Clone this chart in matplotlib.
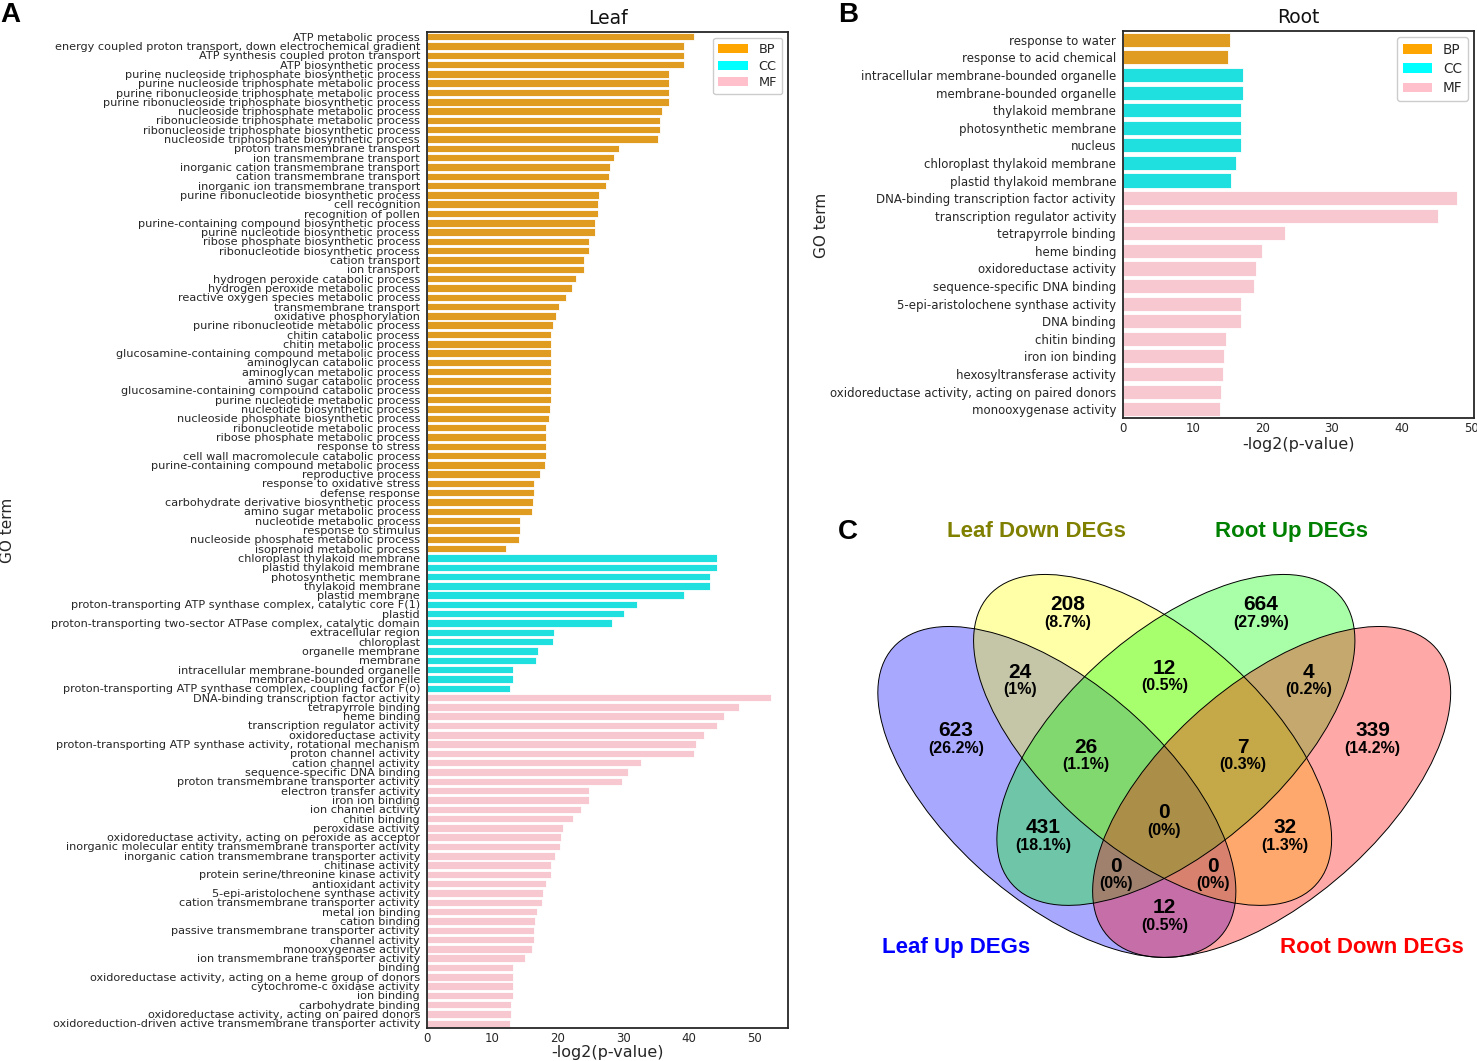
import matplotlib
matplotlib.use("Agg")
import matplotlib.pyplot as plt
from matplotlib.patches import Ellipse, Patch
import matplotlib.colors as mcolors
import colorsys
import numpy as np

# ---------------- data ----------------
leaf_bp_terms = [
    "ATP metabolic process",
    "energy coupled proton transport, down electrochemical gradient",
    "ATP synthesis coupled proton transport",
    "ATP biosynthetic process",
    "purine nucleoside triphosphate biosynthetic process",
    "purine nucleoside triphosphate metabolic process",
    "purine ribonucleoside triphosphate metabolic process",
    "purine ribonucleoside triphosphate biosynthetic process",
    "nucleoside triphosphate metabolic process",
    "ribonucleoside triphosphate metabolic process",
    "ribonucleoside triphosphate biosynthetic process",
    "nucleoside triphosphate biosynthetic process",
    "proton transmembrane transport",
    "ion transmembrane transport",
    "inorganic cation transmembrane transport",
    "cation transmembrane transport",
    "inorganic ion transmembrane transport",
    "purine ribonucleotide biosynthetic process",
    "cell recognition",
    "recognition of pollen",
    "purine-containing compound biosynthetic process",
    "purine nucleotide biosynthetic process",
    "ribose phosphate biosynthetic process",
    "ribonucleotide biosynthetic process",
    "cation transport",
    "ion transport",
    "hydrogen peroxide catabolic process",
    "hydrogen peroxide metabolic process",
    "reactive oxygen species metabolic process",
    "transmembrane transport",
    "oxidative phosphorylation",
    "purine ribonucleotide metabolic process",
    "chitin catabolic process",
    "chitin metabolic process",
    "glucosamine-containing compound metabolic process",
    "aminoglycan catabolic process",
    "aminoglycan metabolic process",
    "amino sugar catabolic process",
    "glucosamine-containing compound catabolic process",
    "purine nucleotide metabolic process",
    "nucleotide biosynthetic process",
    "nucleoside phosphate biosynthetic process",
    "ribonucleotide metabolic process",
    "ribose phosphate metabolic process",
    "response to stress",
    "cell wall macromolecule catabolic process",
    "purine-containing compound metabolic process",
    "reproductive process",
    "response to oxidative stress",
    "defense response",
    "carbohydrate derivative biosynthetic process",
    "amino sugar metabolic process",
    "nucleotide metabolic process",
    "response to stimulus",
    "nucleoside phosphate metabolic process",
    "isoprenoid metabolic process",
]
leaf_bp_values = [40.7, 39.3, 39.3, 39.3, 36.9, 36.9, 36.9, 36.9, 35.8, 35.5, 35.5, 35.2,
                  29.3, 28.5, 28.0, 27.8, 27.3, 26.2, 26.1, 26.1, 25.7, 25.7, 24.7, 24.7,
                  24.0, 24.0, 22.7, 22.2, 21.2, 20.2, 19.7, 19.3, 19.0, 19.0, 19.0, 19.0,
                  19.0, 19.0, 19.0, 18.9, 18.7, 18.6, 18.2, 18.2, 18.1, 18.1, 18.0, 17.2,
                  16.4, 16.3, 16.2, 16.1, 14.2, 14.2, 14.0, 12.1]

leaf_cc_terms = [
    "chloroplast thylakoid membrane",
    "plastid thylakoid membrane",
    "photosynthetic membrane",
    "thylakoid membrane",
    "plastid membrane",
    "proton-transporting ATP synthase complex, catalytic core F(1)",
    "plastid",
    "proton-transporting two-sector ATPase complex, catalytic domain",
    "extracellular region",
    "chloroplast",
    "organelle membrane",
    "membrane",
    "intracellular membrane-bounded organelle",
    "membrane-bounded organelle",
    "proton-transporting ATP synthase complex, coupling factor F(o)",
]
leaf_cc_values = [44.3, 44.2, 43.2, 43.2, 39.3, 32.0, 30.0, 28.2, 19.4, 19.3, 17.0, 16.7,
                  13.1, 13.1, 12.7]

leaf_mf_terms = [
    "DNA-binding transcription factor activity",
    "tetrapyrrole binding",
    "heme binding",
    "transcription regulator activity",
    "oxidoreductase activity",
    "proton-transporting ATP synthase activity, rotational mechanism",
    "proton channel activity",
    "cation channel activity",
    "sequence-specific DNA binding",
    "proton transmembrane transporter activity",
    "electron transfer activity",
    "iron ion binding",
    "ion channel activity",
    "chitin binding",
    "peroxidase activity",
    "oxidoreductase activity, acting on peroxide as acceptor",
    "inorganic molecular entity transmembrane transporter activity",
    "inorganic cation transmembrane transporter activity",
    "chitinase activity",
    "protein serine/threonine kinase activity",
    "antioxidant activity",
    "5-epi-aristolochene synthase activity",
    "cation transmembrane transporter activity",
    "metal ion binding",
    "cation binding",
    "passive transmembrane transporter activity",
    "channel activity",
    "monooxygenase activity",
    "ion transmembrane transporter activity",
    "binding",
    "oxidoreductase activity, acting on a heme group of donors",
    "cytochrome-c oxidase activity",
    "ion binding",
    "carbohydrate binding",
    "oxidoreductase activity, acting on paired donors",
    "oxidoreduction-driven active transmembrane transporter activity",
]
leaf_mf_values = [52.5, 47.6, 45.4, 44.3, 42.3, 41.1, 40.7, 32.7, 30.7, 29.8, 24.7, 24.7,
                  23.5, 22.3, 20.8, 20.5, 20.3, 19.5, 19.0, 18.9, 18.2, 17.7, 17.5, 16.8,
                  16.5, 16.3, 16.3, 16.1, 14.9, 13.2, 13.2, 13.2, 13.1, 12.8, 12.8, 12.6]

root_bp_terms = ["response to water", "response to acid chemical"]
root_bp_values = [15.3, 15.1]
root_cc_terms = ["intracellular membrane-bounded organelle", "membrane-bounded organelle",
                 "thylakoid membrane", "photosynthetic membrane", "nucleus",
                 "chloroplast thylakoid membrane", "plastid thylakoid membrane"]
root_cc_values = [17.2, 17.2, 17.0, 17.0, 16.9, 16.2, 15.5]
root_mf_terms = ["DNA-binding transcription factor activity", "transcription regulator activity",
                 "tetrapyrrole binding", "heme binding", "oxidoreductase activity",
                 "sequence-specific DNA binding", "5-epi-aristolochene synthase activity",
                 "DNA binding", "chitin binding", "iron ion binding", "hexosyltransferase activity",
                 "oxidoreductase activity, acting on paired donors", "monooxygenase activity"]
root_mf_values = [47.9, 45.2, 23.2, 20.0, 19.1, 18.8, 16.9, 16.9, 14.8, 14.5, 14.4, 14.1, 13.9]

categories = ["BP", "CC", "MF"]
category_colors = ["#FFA500", "#00FFFF", "#FFC0CB"]

venn_set_names = ["Leaf Up DEGs", "Leaf Down DEGs", "Root Up DEGs", "Root Down DEGs"]
venn_set_colors = ["#0000FF", "#FFFF00", "#00FF00", "#FF0000"]
venn_title_colors = ["#0000FF", "#808000", "#008000", "#FF0000"]
venn_regions = ["A", "B", "C", "D", "AB", "BC", "CD", "ABC", "BCD",
                "ABCD", "AC", "BD", "ABD", "ACD", "AD"]
venn_counts = [623, 208, 664, 339, 24, 12, 4, 26, 7, 0, 431, 32, 0, 0, 12]

# ---------------- helpers ----------------
W, H = 1477, 1061


def desat(c, prop=0.75):
    r, g, b = mcolors.to_rgb(c)
    h, l, s = colorsys.rgb_to_hls(r, g, b)
    return colorsys.hls_to_rgb(h, l, s * prop)


def box(l, t, r, b):
    return [l / W, 1 - b / H, (r - l) / W, (b - t) / H]


def go_bar(ax, terms_list, values_list, xmax, label_fs, legend_fs, lspace, hlen):
    terms, vals, cols = [], [], []
    for cat_i, (tl, vl) in enumerate(zip(terms_list, values_list)):
        terms += tl
        vals += vl
        cols += [desat(category_colors[cat_i])] * len(tl)
    y = np.arange(len(terms))
    ax.barh(y, vals, height=0.8, color=cols, edgecolor="white", linewidth=0.6)
    ax.set_yticks(y)
    ax.set_yticklabels(terms, fontsize=label_fs)
    ax.set_ylim(len(terms) - 0.5, -0.5)
    ax.set_xlim(0, xmax)
    ax.set_xticks([0, 10, 20, 30, 40, 50])
    ax.tick_params(axis="y", length=0, pad=5, colors="#262626")
    ax.tick_params(axis="x", length=0, pad=3, labelsize=8.5, colors="#262626")
    for s in ax.spines.values():
        s.set_color("#262626")
        s.set_linewidth(1.3)
    handles = [Patch(facecolor=c, label=n) for n, c in zip(categories, category_colors)]
    leg = ax.legend(handles=handles, loc="upper right", fontsize=legend_fs,
                    handlelength=hlen, handleheight=0.7, borderpad=0.4,
                    labelspacing=lspace, handletextpad=0.8, framealpha=1,
                    edgecolor="#CCCCCC", borderaxespad=0.45)
    for t in leg.get_texts():
        t.set_color("#262626")


plt.rcParams["font.family"] = ["DejaVu Sans"]
fig = plt.figure(figsize=(W / 100, H / 100), dpi=100)

# ---------------- Panel A: Leaf ----------------
axA = fig.add_axes(box(427, 32, 788, 1028))
go_bar(axA, [leaf_bp_terms, leaf_cc_terms, leaf_mf_terms],
       [leaf_bp_values, leaf_cc_values, leaf_mf_values], 55.1, 8.1, 9.3, 0.28, 2.3)
axA.set_title("Leaf", fontsize=13.5, pad=6, color="#111111")
axA.set_xlabel("-log2(p-value)", fontsize=11.5, labelpad=0, color="#262626")
fig.text(8 / W, 1 - 530 / H, "GO term", rotation=90, ha="center", va="center",
         fontsize=11, color="#262626")

# ---------------- Panel B: Root ----------------
axB = fig.add_axes(box(1123, 31, 1474, 418))
go_bar(axB, [root_bp_terms, root_cc_terms, root_mf_terms],
       [root_bp_values, root_cc_values, root_mf_values], 50.4, 8.5, 9.8, 0.4, 2.15)
axB.set_title("Root", fontsize=13.5, pad=6, color="#111111")
axB.set_xlabel("-log2(p-value)", fontsize=11.5, labelpad=1, color="#262626")
fig.text(821 / W, 1 - 225 / H, "GO term", rotation=90, ha="center", va="center",
         fontsize=11, color="#262626")

# ---------------- Panel C: Venn ----------------
sx, sy, X0, Y0 = 647.0, 598.0, 840.75, 1073.0
axC = fig.add_axes([X0 / W, 0, (W - X0) / W, 1 - (Y0 - sy) / H])
axC.set_xlim(0, (W - X0) / sx)
axC.set_ylim((Y0 - H) / sy, 1.0)
axC.axis("off")

ell_centers = [(0.334, 0.47), (0.482, 0.557), (0.518, 0.557), (0.666, 0.47)]
ell_angles = [-45, -45, 45, 45]
for (cx, cy), ang, col in zip(ell_centers, ell_angles, venn_set_colors):
    axC.add_patch(Ellipse((cx, cy), 0.70, 0.35, angle=ang, facecolor=col,
                          alpha=0.34, edgecolor="none"))
for (cx, cy), ang in zip(ell_centers, ell_angles):
    axC.add_patch(Ellipse((cx, cy), 0.70, 0.35, angle=ang, fill=False,
                          edgecolor="black", linewidth=0.7))

region_pos = {
    "A": (0.178, 0.572), "B": (0.351, 0.783), "C": (0.649, 0.783), "D": (0.822, 0.572),
    "AB": (0.277, 0.670), "BC": (0.500, 0.677), "CD": (0.723, 0.670),
    "ABC": (0.379, 0.545), "BCD": (0.621, 0.545), "ABCD": (0.500, 0.435),
    "AC": (0.313, 0.410), "BD": (0.687, 0.410), "ABD": (0.425, 0.346),
    "ACD": (0.575, 0.346), "AD": (0.500, 0.276),
}
total = sum(venn_counts)
for reg, cnt in zip(venn_regions, venn_counts):
    x, y = region_pos[reg]
    pct = round(100.0 * cnt / total, 1)
    axC.text(x, y, str(cnt), ha="center", va="center", fontsize=15,
             fontweight="bold", family="Liberation Sans")
    axC.text(x, y - 0.0293, "({:g}%)".format(pct), ha="center", va="center",
             fontsize=11.5, fontweight="bold", family="Liberation Sans")

title_pos = [(0.178, 0.2107), (0.302, 0.9047), (0.697, 0.9047), (0.821, 0.2107)]
for name, col, (x, y) in zip(venn_set_names, venn_title_colors, title_pos):
    axC.text(x, y, name, ha="center", va="center", fontsize=16,
             fontweight="bold", color=col, family="Liberation Sans")

# ---------------- panel letters ----------------
for letter, (px, py) in zip(["A", "B", "C"], [(0, 15), (838, 15), (838, 532)]):
    fig.text(px / W, 1 - py / H, letter, ha="left", va="center", fontsize=20,
             fontweight="bold", family="Liberation Sans")

fig.savefig("out.png", dpi=100)
